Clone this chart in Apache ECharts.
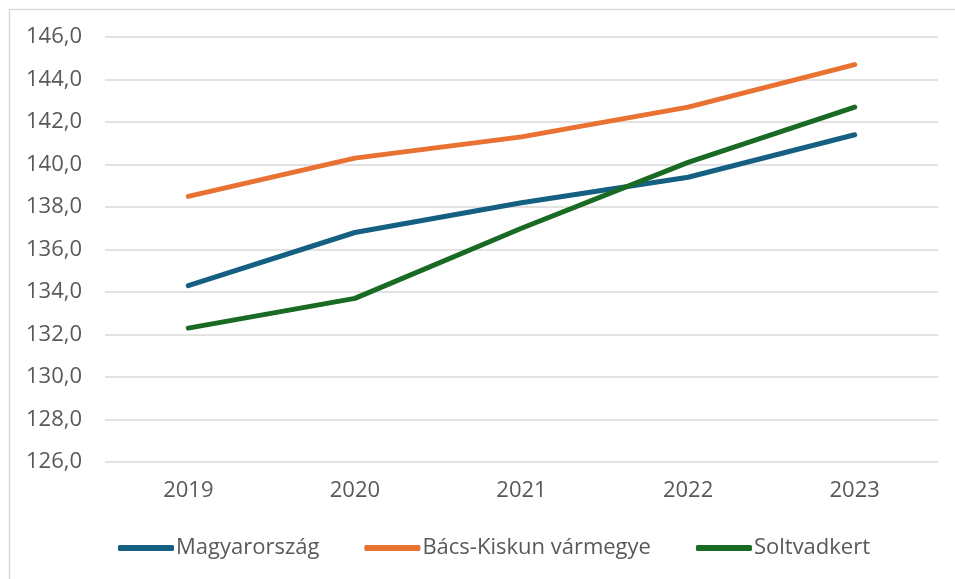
<!DOCTYPE html>
<html>
<head>
<meta charset="utf-8">
<script src="https://cdn.jsdelivr.net/npm/echarts@6/dist/echarts.min.js"></script>
<style>
  html, body { margin: 0; padding: 0; background: #fff; }
  #chart { width: 955px; height: 579px; }
</style>
</head>
<body>
<div id="chart"></div>
<script>
const years = ['2019', '2020', '2021', '2022', '2023'];
const magyarorszag = [134.3, 136.8, 138.2, 139.4, 141.4];
const bacsKiskun = [138.5, 140.3, 141.3, 142.7, 144.7];
const soltvadkert = [132.3, 133.7, 137.0, 140.1, 142.7];

const textColor = '#595959';
const fontFamily = '"Open Sans", "Liberation Sans", sans-serif';

const chartInstance = echarts.init(document.getElementById('chart'), null, { renderer: 'canvas' });

const makeLine = (name, data, color) => ({
  name: name,
  type: 'line',
  data: data,
  symbol: 'none',
  itemStyle: { color: color },
  lineStyle: { width: 5, color: color, cap: 'round', join: 'round' }
});

chartInstance.setOption({
  animation: false,
  textStyle: { fontFamily: fontFamily },
  graphic: [{
    type: 'rect',
    left: 7,
    top: 7,
    shape: { width: 980, height: 600 },
    style: { fill: 'none', stroke: '#D9D9D9', lineWidth: 1.5 },
    silent: true
  }],
  grid: { left: 105, right: 17, top: 37, bottom: 117 },
  legend: {
    left: 113,
    top: 532,
    icon: 'roundRect',
    itemWidth: 56,
    itemHeight: 6,
    itemGap: 45,
    textStyle: { color: textColor, fontSize: 22, fontFamily: fontFamily, padding: [0, 0, 0, -3] },
    data: ['Magyarország', 'Bács-Kiskun vármegye', 'Soltvadkert']
  },
  xAxis: {
    type: 'category',
    data: years,
    axisLine: { show: false },
    axisTick: { show: false },
    axisLabel: { color: textColor, fontSize: 22, margin: 18 }
  },
  yAxis: {
    type: 'value',
    min: 126,
    max: 146,
    interval: 2,
    axisLine: { show: false },
    axisTick: { show: false },
    axisLabel: {
      color: textColor,
      fontSize: 22,
      margin: 23,
      formatter: v => v.toFixed(1).replace('.', ',')
    },
    splitLine: { lineStyle: { color: '#D9D9D9', width: 1.5 } }
  },
  series: [
    makeLine('Magyarország', magyarorszag, '#156082'),
    makeLine('Bács-Kiskun vármegye', bacsKiskun, '#E97132'),
    makeLine('Soltvadkert', soltvadkert, '#196B24')
  ]
});
</script>
</body>
</html>
